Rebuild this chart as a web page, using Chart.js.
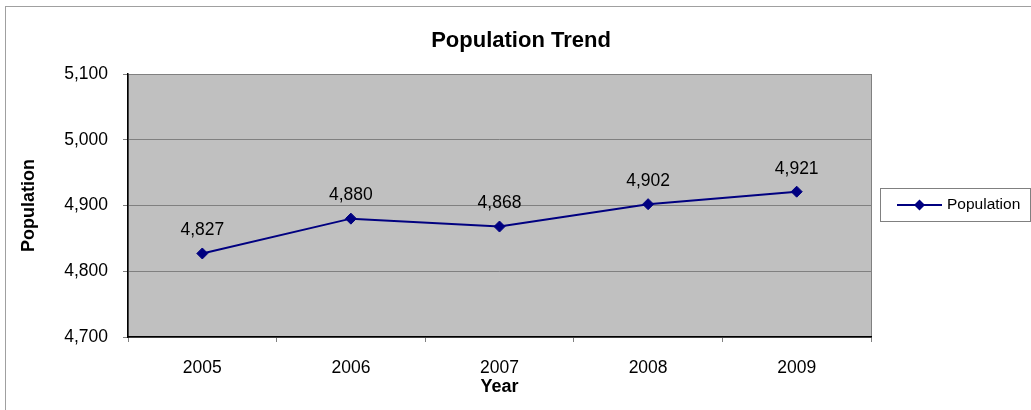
<!DOCTYPE html>
<html>
<head>
<meta charset="utf-8">
<title>Population Trend</title>
<script src="https://cdn.jsdelivr.net/npm/chart.js@4.4.1/dist/chart.umd.min.js"></script>
<style>
  html, body { margin: 0; padding: 0; background: #ffffff; }
  canvas { display: block; }
</style>
</head>
<body>
<canvas id="chart" width="1031" height="410"></canvas>
<script>
// Data
const years = ['2005', '2006', '2007', '2008', '2009'];
const population = [4827, 4880, 4868, 4902, 4921];
const yTicks = [4700, 4800, 4900, 5000, 5100];

const FONT = '"Liberation Sans", Arial, Helvetica, sans-serif';
const NAVY = '#000080';
const fmt = v => v.toLocaleString('en-US');

// Frame, grey plot area, title, value labels and legend
const decorations = {
  id: 'decorations',
  beforeDraw(chart) {
    const { ctx, chartArea: a } = chart;
    ctx.save();
    ctx.fillStyle = '#ffffff';
    ctx.fillRect(0, 0, chart.width, chart.height);
    ctx.strokeStyle = '#a0a0a0';
    ctx.lineWidth = 1;
    ctx.strokeRect(5.5, 6.5, chart.width + 10, chart.height + 10);
    ctx.fillStyle = '#c0c0c0';
    ctx.fillRect(a.left, a.top, a.right - a.left, a.bottom - a.top);
    ctx.strokeStyle = '#808080';
    ctx.strokeRect(a.left + 0.5, a.top + 0.5, a.right - a.left, a.bottom - a.top);
    ctx.restore();
  },
  afterDraw(chart) {
    const { ctx } = chart;
    ctx.save();
    // title
    ctx.fillStyle = '#000000';
    ctx.font = 'bold 22px ' + FONT;
    ctx.textAlign = 'center';
    ctx.textBaseline = 'middle';
    ctx.fillText('Population Trend', 521, 41);

    // value labels
    ctx.font = '17.5px ' + FONT;
    const meta = chart.getDatasetMeta(0);
    meta.data.forEach((pt, i) => {
      ctx.fillText(fmt(population[i]), pt.x, pt.y - 23);
    });

    // legend
    ctx.strokeStyle = '#808080';
    ctx.lineWidth = 1;
    ctx.strokeRect(880.5, 188.5, 150, 33);
    ctx.strokeStyle = NAVY;
    ctx.lineWidth = 2;
    ctx.beginPath();
    ctx.moveTo(897, 205);
    ctx.lineTo(942, 205);
    ctx.stroke();
    ctx.fillStyle = NAVY;
    ctx.beginPath();
    ctx.moveTo(919.5, 199.5);
    ctx.lineTo(925, 205);
    ctx.lineTo(919.5, 210.5);
    ctx.lineTo(914, 205);
    ctx.closePath();
    ctx.fill();
    ctx.fillStyle = '#000000';
    ctx.font = '15.5px ' + FONT;
    ctx.textAlign = 'left';
    ctx.fillText('Population', 947, 205);
    ctx.restore();
  }
};

new Chart(document.getElementById('chart'), {
  type: 'line',
  data: {
    labels: years,
    datasets: [{
      label: 'Population',
      data: population,
      borderColor: NAVY,
      backgroundColor: NAVY,
      borderWidth: 2,
      pointStyle: 'rectRot',
      pointRadius: 5.5,
      pointBorderWidth: 1,
      pointBackgroundColor: NAVY,
      pointBorderColor: NAVY,
      tension: 0,
      fill: false
    }]
  },
  options: {
    responsive: false,
    animation: false,
    events: [],
    layout: { padding: { top: 74, right: 160, left: 0, bottom: 0 } },
    plugins: {
      legend: { display: false },
      title: { display: false },
      tooltip: { enabled: false }
    },
    scales: {
      x: {
        type: 'category',
        offset: true,
        afterFit(s) { s.height = 73; },
        grid: {
          offset: true,
          drawOnChartArea: false,
          drawTicks: true,
          tickLength: 5,
          color: '#808080'
        },
        border: { color: '#000000', width: 1.5 },
        ticks: {
          color: '#000000',
          font: { family: FONT, size: 17.5 },
          padding: 16,
          maxRotation: 0
        },
        title: {
          display: true,
          text: 'Year',
          color: '#000000',
          font: { family: FONT, size: 18, weight: 'bold' },
          padding: { top: 16, bottom: 12 }
        }
      },
      y: {
        min: yTicks[0],
        max: yTicks[yTicks.length - 1],
        afterFit(s) { s.width = 128; },
        afterBuildTicks(s) { s.ticks = yTicks.map(v => ({ value: v })); },
        grid: {
          color: '#808080',
          lineWidth: 1,
          drawTicks: true,
          tickLength: 5,
          tickColor: '#808080'
        },
        border: { color: '#000000', width: 1.5 },
        ticks: {
          color: '#000000',
          font: { family: FONT, size: 17.5 },
          padding: 15,
          callback: v => fmt(v)
        },
        title: {
          display: true,
          text: 'Population',
          color: '#000000',
          font: { family: FONT, size: 18, weight: 'bold' },
          padding: { top: 18, bottom: 0 }
        }
      }
    }
  },
  plugins: [decorations]
});
</script>
</body>
</html>
